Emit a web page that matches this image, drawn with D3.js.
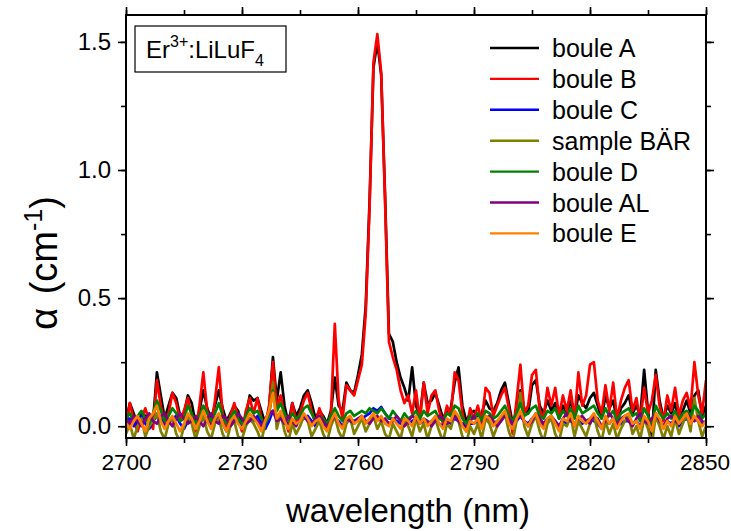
<!DOCTYPE html>
<html>
<head>
<meta charset="utf-8">
<script src="https://cdn.jsdelivr.net/npm/d3@7/dist/d3.min.js"></script>
<style>
  html, body { margin: 0; padding: 0; background: #fff; }
  svg { display: block; font-family: "Liberation Sans", Arial, Helvetica, sans-serif; }
</style>
</head>
<body>
<svg id="chart" width="731" height="531"></svg>
<script>
// ---- data ----
const wavelength = d3.range(2700, 2851, 1); // nm sampling grid
const seriesNames = ["boule A", "boule B", "boule C", "sample BÄR", "boule D", "boule AL", "boule E"];
const seriesColors = ["#000000", "#ff0000", "#0000ff", "#808000", "#008000", "#800080", "#ff8000"];
const xTicks = [2700, 2730, 2760, 2790, 2820, 2850];
const yTicks = [0.0, 0.5, 1.0, 1.5];
const annotation = { main: "Er", sup: "3+", rest: ":LiLuF", sub: "4" };

const bouleA = [
  0.02,0.09,0.05,0.00,0.05,0.04,0.03,0.02,0.21,0.12,
  0.03,0.08,0.13,0.11,0.04,0.05,0.12,0.09,0.01,0.06,
  0.14,0.07,0.03,0.08,0.14,0.07,0.02,0.05,0.08,0.06,
  0.00,0.04,0.12,0.10,0.11,0.06,0.01,0.07,0.27,0.10,
  0.21,0.08,0.01,0.09,0.04,0.07,0.12,0.14,0.09,0.03,
  0.06,0.04,0.01,0.06,0.19,0.08,0.06,0.17,0.14,0.13,
  0.20,0.28,0.47,0.88,1.40,1.50,1.37,0.90,0.36,0.33,
  0.25,0.19,0.15,0.10,0.23,0.08,0.04,0.17,0.09,0.10,
  0.13,0.08,0.03,0.06,0.07,0.17,0.23,0.08,0.02,0.05,
  0.06,0.04,0.05,0.10,0.07,0.06,0.09,0.14,0.17,0.09,
  0.01,0.06,0.14,0.07,0.05,0.16,0.18,0.08,0.05,0.10,
  0.06,0.09,0.03,0.08,0.05,0.10,0.04,0.12,0.09,0.07,
  0.11,0.13,0.08,0.03,0.12,0.07,0.10,0.02,0.07,0.09,
  0.12,0.05,0.08,0.04,0.22,0.06,-0.05,0.22,0.10,0.03,
  0.08,0.05,0.09,0.02,0.06,0.10,0.05,0.12,0.14,0.04,
  0.08
];
const bouleB = [
  0.00,0.09,0.02,-0.02,0.03,0.07,0.02,-0.01,0.18,0.08,
  0.01,0.05,0.13,0.09,0.02,0.06,0.11,0.04,-0.02,0.08,
  0.21,0.06,0.00,0.10,0.23,0.05,-0.01,0.04,0.09,0.03,
  -0.02,0.06,0.11,0.05,0.11,0.03,-0.01,0.08,0.25,0.07,
  0.12,0.04,-0.02,0.09,0.02,0.05,0.10,0.13,0.06,0.01,
  0.07,0.03,-0.01,0.05,0.40,0.10,0.03,0.16,0.14,0.12,
  0.18,0.24,0.44,0.86,1.42,1.53,1.38,0.88,0.33,0.27,
  0.22,0.14,0.09,0.12,0.05,0.14,0.02,0.17,0.05,0.12,
  0.14,0.06,0.01,0.08,0.04,0.21,0.18,0.05,-0.02,0.07,
  0.03,0.08,0.02,0.15,0.13,0.04,0.08,0.12,0.15,0.07,
  -0.03,0.10,0.24,0.05,0.08,0.20,0.22,0.06,0.03,0.15,
  0.08,0.15,0.04,0.12,0.06,0.14,0.03,0.21,0.08,0.12,
  0.24,0.25,0.10,0.05,0.16,0.06,0.17,0.03,0.10,0.15,
  0.18,0.06,0.11,0.02,0.15,0.05,0.10,0.20,0.08,0.02,
  0.12,0.06,0.15,0.04,0.10,0.13,0.07,0.25,0.12,0.05,
  0.18
];
const bouleC = [
  0.02,0.03,0.00,0.02,0.04,0.01,-0.01,0.02,0.04,0.03,
  0.00,0.01,0.03,0.04,0.01,-0.01,0.02,0.03,0.00,0.01,
  0.03,0.02,0.00,0.02,0.04,0.01,-0.02,0.01,0.03,0.02,
  0.00,0.01,0.03,0.02,0.04,0.01,-0.01,0.02,0.06,0.03,
  0.04,0.02,0.00,0.02,0.01,0.02,0.03,0.04,0.02,0.00,
  0.02,0.01,0.00,0.02,0.03,0.02,0.00,0.02,0.03,0.02,
  0.03,0.03,0.04,0.05,0.07,0.06,0.075,0.05,0.03,0.03,
  0.02,0.01,0.03,0.01,0.02,0.03,0.01,0.02,0.01,0.02,
  0.03,0.01,0.00,0.02,0.01,0.03,0.02,0.01,-0.01,0.01,
  0.01,0.02,0.00,0.03,0.02,0.01,0.02,0.03,0.04,0.02,
  0.00,0.02,0.04,0.02,0.01,0.03,0.04,0.02,0.00,0.02,
  0.03,0.02,0.00,0.02,0.01,0.03,0.00,0.02,0.01,0.02,
  0.03,0.02,0.01,-0.01,0.02,0.01,0.03,0.00,0.01,0.02,
  0.02,0.01,0.02,0.00,0.03,0.01,-0.01,0.03,0.02,0.00,
  0.02,0.01,0.03,0.00,0.02,0.03,0.01,0.03,0.02,0.01,
  0.02
];
const sampleBAR = [
  -0.03,0.01,-0.05,0.00,0.03,-0.04,0.00,0.02,0.05,-0.02,
  -0.05,0.01,0.03,-0.03,-0.06,0.00,0.04,0.01,-0.05,0.00,
  0.04,-0.02,-0.05,0.01,0.03,-0.03,-0.06,0.00,0.02,-0.04,
  -0.05,0.00,0.03,0.01,-0.02,-0.06,0.01,0.04,0.17,-0.01,
  0.05,-0.02,-0.06,0.01,-0.03,0.00,0.04,0.02,-0.04,-0.01,
  0.02,-0.03,-0.06,0.00,0.04,-0.02,-0.05,0.01,0.03,-0.03,
  0.00,0.03,-0.02,0.01,0.04,-0.01,0.02,-0.03,-0.05,0.01,
  -0.02,-0.05,0.02,0.00,-0.04,0.03,-0.02,0.01,-0.05,0.00,
  0.03,-0.02,-0.06,0.01,-0.01,0.05,0.02,-0.04,-0.07,0.00,
  -0.03,0.01,-0.05,0.03,0.01,-0.04,0.00,0.03,0.05,-0.02,
  -0.06,0.02,0.13,0.00,-0.04,0.01,0.04,-0.02,-0.06,0.01,
  0.03,-0.03,-0.06,0.01,0.00,0.04,-0.04,0.02,-0.01,-0.04,
  0.01,0.04,-0.02,-0.06,0.02,-0.03,0.01,-0.05,-0.01,0.02,
  0.04,-0.03,0.00,-0.05,0.03,-0.01,-0.07,0.04,0.00,-0.05,
  0.00,-0.04,0.03,-0.03,0.01,0.05,-0.02,0.11,0.02,-0.04,
  0.00
];
const bouleD = [
  0.03,0.05,0.02,0.04,0.06,0.03,0.01,0.05,0.10,0.06,
  0.02,0.04,0.07,0.05,0.02,0.03,0.08,0.05,0.01,0.04,
  0.08,0.05,0.02,0.05,0.09,0.04,0.01,0.03,0.06,0.03,
  0.01,0.04,0.07,0.05,0.06,0.03,0.01,0.05,0.14,0.06,
  0.09,0.05,0.02,0.05,0.03,0.04,0.07,0.08,0.05,0.02,
  0.04,0.03,0.01,0.04,0.07,0.04,0.02,0.05,0.06,0.04,
  0.05,0.06,0.05,0.07,0.06,0.05,0.07,0.05,0.03,0.06,
  0.04,0.02,0.05,0.03,0.04,0.06,0.03,0.06,0.04,0.05,
  0.06,0.03,0.02,0.05,0.04,0.08,0.07,0.03,0.01,0.04,
  0.03,0.05,0.02,0.06,0.05,0.03,0.04,0.06,0.08,0.04,
  0.02,0.05,0.09,0.04,0.05,0.07,0.08,0.04,0.03,0.06,
  0.05,0.07,0.03,0.06,0.04,0.07,0.03,0.08,0.05,0.06,
  0.07,0.08,0.05,0.03,0.07,0.04,0.06,0.02,0.05,0.06,
  0.07,0.04,0.05,0.02,0.07,0.04,0.01,0.08,0.05,0.03,
  0.05,0.03,0.06,0.02,0.05,0.06,0.04,0.08,0.06,0.03,
  0.05
];
const bouleAL = [
  0.03,0.01,0.04,0.02,0.00,0.03,0.05,0.02,0.01,0.04,
  0.05,0.02,0.00,0.03,0.05,0.03,0.01,0.02,0.04,0.02,
  0.00,0.03,0.05,0.02,0.01,0.04,0.03,0.00,0.02,0.05,
  0.03,0.01,0.02,0.04,0.02,0.00,0.03,0.05,0.06,0.02,
  0.03,0.01,0.04,0.02,0.00,0.03,0.04,0.02,0.01,0.03,
  0.04,0.02,0.00,0.02,0.04,0.01,0.00,0.03,0.02,0.01,
  0.03,0.04,0.02,0.01,0.03,0.04,0.02,0.03,0.01,0.02,
  0.04,0.02,0.00,0.02,0.04,0.03,0.01,0.03,0.02,0.00,
  0.02,0.04,0.03,0.01,0.02,0.04,0.02,0.00,-0.01,0.02,
  0.04,0.02,0.01,0.03,0.04,0.02,0.00,0.02,0.04,0.03,
  0.01,0.03,0.04,0.02,0.00,0.02,0.05,0.03,0.01,0.03,
  0.04,0.02,0.00,0.03,0.05,0.02,0.01,0.03,0.04,0.02,
  0.01,0.04,0.03,0.00,0.02,0.05,0.03,0.01,0.03,0.04,
  0.02,0.00,0.03,0.05,0.02,0.01,0.03,0.05,0.02,0.00,
  0.03,0.04,0.02,0.01,0.03,0.05,0.03,0.02,0.04,0.02,
  0.01
];
const bouleE = [
  0.01,-0.01,0.02,0.04,0.01,-0.02,0.03,0.05,0.08,0.02,
  -0.01,0.02,0.04,0.01,-0.02,0.01,0.05,0.03,-0.01,0.02,
  0.06,0.02,-0.01,0.03,0.05,0.01,-0.02,0.02,0.04,0.01,
  -0.01,0.02,0.05,0.03,0.01,-0.02,0.02,0.06,0.13,0.03,
  0.06,0.02,-0.01,0.03,0.01,0.02,0.05,0.03,0.00,0.02,
  0.03,0.00,-0.02,0.02,0.05,0.01,-0.01,0.03,0.04,0.01,
  0.02,0.04,0.01,0.03,0.05,0.02,0.04,0.01,0.00,0.03,
  0.01,-0.01,0.03,0.02,0.00,0.04,0.01,0.03,0.00,0.02,
  0.04,0.01,-0.01,0.03,0.02,0.06,0.04,0.00,-0.02,0.02,
  0.01,0.03,-0.01,0.04,0.03,0.00,0.02,0.04,0.06,0.01,
  -0.01,0.03,0.06,0.02,0.00,0.03,0.05,0.01,-0.01,0.03,
  0.04,0.01,-0.02,0.03,0.02,0.05,0.00,0.04,0.02,0.01,
  0.03,0.05,0.02,-0.01,0.04,0.01,0.03,-0.01,0.02,0.04,
  0.05,0.01,0.02,-0.01,0.04,0.02,-0.02,0.05,0.03,-0.01,
  0.02,0.00,0.04,0.01,0.03,0.05,0.01,0.04,0.02,0.00,
  0.02
];
const seriesValues = [bouleA, bouleB, bouleC, sampleBAR, bouleD, bouleAL, bouleE];

// ---- layout ----
const svg = d3.select("#chart");
const plot = { left: 126, right: 706, top: 15, bottom: 438 };

const x = d3.scaleLinear().domain([2700, 2850]).range([plot.left, plot.right]);
const y = d3.scaleLinear().domain([-0.046, 1.605]).range([plot.bottom, plot.top]);

// clip
svg.append("defs").append("clipPath").attr("id", "clip")
  .append("rect").attr("x", plot.left).attr("y", plot.top)
  .attr("width", plot.right - plot.left).attr("height", plot.bottom - plot.top);

// lines
const line = d3.line().x((d, i) => x(wavelength[i])).y(d => y(d));
const gLines = svg.append("g").attr("clip-path", "url(#clip)");
seriesValues.forEach((vals, k) => {
  gLines.append("path").datum(vals)
    .attr("d", line)
    .attr("fill", "none")
    .attr("stroke", seriesColors[k])
    .attr("stroke-width", 2.7)
    .attr("stroke-linejoin", "round");
});

// axes
const xMinor = d3.range(2700, 2851, 15);
const yMinor = d3.range(0, 1.51, 0.25);

function styleAxis(size) {
  return g => {
    g.selectAll(".domain").remove();
    g.selectAll("line").attr("stroke", "#000").attr("stroke-width", 1.6);
    g.selectAll("text").attr("fill", "#000").style("font-size", size + "px")
      .style("font-family", '"Liberation Sans", Arial, sans-serif');
  };
}

// bottom
svg.append("g").attr("transform", `translate(0,${plot.bottom})`)
  .call(d3.axisBottom(x).tickValues(xMinor).tickSize(5).tickFormat(""))
  .call(styleAxis(23));
const xAxisG = svg.append("g").attr("transform", `translate(0,${plot.bottom})`)
  .call(d3.axisBottom(x).tickValues(xTicks).tickSize(8).tickPadding(8).tickFormat(d3.format("d")))
  .call(styleAxis(22.6));
xAxisG.selectAll(".tick text").filter(d => d === 2850).attr("dx", -1.5);
// top
svg.append("g").attr("transform", `translate(0,${plot.top})`)
  .call(d3.axisTop(x).tickValues(xMinor).tickSize(5).tickFormat(""))
  .call(styleAxis(23));
svg.append("g").attr("transform", `translate(0,${plot.top})`)
  .call(d3.axisTop(x).tickValues(xTicks).tickSize(8).tickFormat(""))
  .call(styleAxis(23));
// left
svg.append("g").attr("transform", `translate(${plot.left},0)`)
  .call(d3.axisLeft(y).tickValues(yMinor).tickSize(5).tickFormat(""))
  .call(styleAxis(24));
svg.append("g").attr("transform", `translate(${plot.left},0)`)
  .call(d3.axisLeft(y).tickValues(yTicks).tickSize(8).tickPadding(7).tickFormat(d3.format(".1f")))
  .call(styleAxis(24));
// right
svg.append("g").attr("transform", `translate(${plot.right},0)`)
  .call(d3.axisRight(y).tickValues(yMinor).tickSize(5).tickFormat(""))
  .call(styleAxis(24));
svg.append("g").attr("transform", `translate(${plot.right},0)`)
  .call(d3.axisRight(y).tickValues(yTicks).tickSize(8).tickFormat(""))
  .call(styleAxis(24));

// frame
svg.append("rect")
  .attr("x", plot.left).attr("y", plot.top)
  .attr("width", plot.right - plot.left).attr("height", plot.bottom - plot.top)
  .attr("fill", "none").attr("stroke", "#000").attr("stroke-width", 2);

// axis titles
svg.append("text")
  .attr("x", 408).attr("y", 522)
  .attr("text-anchor", "middle")
  .style("font-size", "33px")
  .text("wavelength (nm)");

const yTitle = svg.append("text")
  .attr("transform", `translate(57,263) rotate(-90)`)
  .attr("text-anchor", "middle")
  .style("font-size", "38px");
yTitle.append("tspan").text("α");
yTitle.append("tspan").attr("dx", 3).text(" (cm");
yTitle.append("tspan").attr("dy", -15).style("font-size", "25px").text("-1");
yTitle.append("tspan").attr("dy", 15).text(")");

// annotation box
svg.append("rect")
  .attr("x", 135).attr("y", 26).attr("width", 151).attr("height", 46)
  .attr("fill", "#fff").attr("stroke", "#000").attr("stroke-width", 1.2);
const ann = svg.append("text").attr("x", 146).attr("y", 58).style("font-size", "24px");
ann.append("tspan").text(annotation.main);
ann.append("tspan").attr("dy", -11).style("font-size", "16px").text(annotation.sup);
ann.append("tspan").attr("dy", 11).text(annotation.rest);
ann.append("tspan").attr("dy", 8).style("font-size", "16px").text(annotation.sub);

// legend
const legend = svg.append("g");
seriesNames.forEach((name, k) => {
  const yy = 48 + k * 30.9;
  legend.append("line")
    .attr("x1", 490).attr("x2", 539).attr("y1", yy).attr("y2", yy)
    .attr("stroke", seriesColors[k]).attr("stroke-width", 2.4);
  legend.append("text")
    .attr("x", 552).attr("y", yy + 9)
    .style("font-size", "25px")
    .text(name);
});
</script>
</body>
</html>
